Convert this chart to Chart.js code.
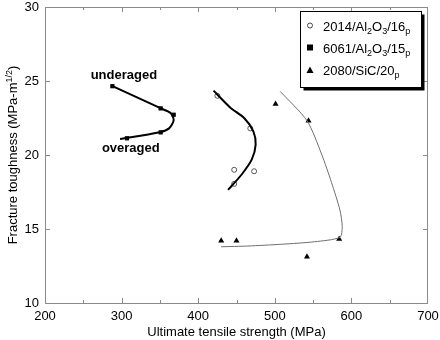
<!DOCTYPE html>
<html lang="en">
<head>
  <meta charset="UTF-8" />
  <title>Fracture toughness vs UTS</title>
  <script src="https://cdn.jsdelivr.net/npm/chart.js"></script>
  <style>
    body { margin: 0; padding: 0; background: #fff; }
    .chart-container { width: 440px; height: 340px; position: relative; }
  </style>
</head>
<body>
  <div class="chart-container">
    <canvas id="toughnessChart"></canvas>
  </div>

  <script>
    // measured points
    const al2014Points = [
      { x: 425, y: 24.0 }, { x: 468, y: 21.8 }, { x: 447, y: 19.0 },
      { x: 473, y: 18.9 }, { x: 447, y: 18.05 }
    ];
    const al6061Points = [
      { x: 288, y: 24.65 }, { x: 351, y: 23.15 }, { x: 368, y: 22.72 },
      { x: 351, y: 21.53 }, { x: 307, y: 21.13 }
    ];
    const al2080Points = [
      { x: 501, y: 23.45 }, { x: 544, y: 22.32 }, { x: 584, y: 14.32 },
      { x: 430, y: 14.21 }, { x: 450, y: 14.21 }, { x: 542, y: 13.13 }
    ];

    // hand-drawn trend curves
    const al2014Curve = [
      { x: 420, y: 24.35 }, { x: 442, y: 23.2 }, { x: 460, y: 22.5 }, { x: 472, y: 21.6 },
      { x: 475, y: 20.7 }, { x: 470, y: 19.7 }, { x: 457, y: 18.7 }, { x: 439, y: 17.64 }
    ];
    const al6061Curve = [
      { x: 286, y: 24.71 }, { x: 350, y: 23.18 }, { x: 364, y: 22.84 }, { x: 368, y: 22.35 },
      { x: 362, y: 21.8 }, { x: 348, y: 21.52 }, { x: 298, y: 21.08 }
    ];
    const al2080Curve = [
      { x: 507, y: 24.3 }, { x: 542, y: 22.32 }, { x: 561, y: 20.07 },
      { x: 574, y: 18.15 }, { x: 585, y: 16.28 }, { x: 588, y: 15.16 }, { x: 585, y: 14.44 },
      { x: 552, y: 14.14 }, { x: 509, y: 13.97 }, { x: 465, y: 13.85 }, { x: 430, y: 13.8 }
    ];

    const xTicks = [200, 300, 400, 500, 600, 700];
    const yTicks = [10, 15, 20, 25, 30];

    // [text, subscript?] pieces
    const legendLabels = [
      [['2014/Al', 0], ['2', 1], ['O', 0], ['3', 1], ['/16', 0], ['p', 1]],
      [['6061/Al', 0], ['2', 1], ['O', 0], ['3', 1], ['/15', 0], ['p', 1]],
      [['2080/SiC/20', 0], ['p', 1]]
    ];
    const legendMarkers = ['circle', 'rect', 'triangle'];

    const notes = [
      { text: 'underaged', x: 303, y: 25.4 },
      { text: 'overaged', x: 312, y: 20.47 }
    ];

    const FONT = '"Liberation Sans", Arial, sans-serif';
    const frameColor = '#8a8a8a';

    function drawMarker(ctx, style, x, y) {
      ctx.save();
      ctx.fillStyle = '#000';
      ctx.strokeStyle = '#444';
      ctx.lineWidth = 1;
      if (style === 'circle') {
        ctx.beginPath();
        ctx.arc(x, y, 2.5, 0, Math.PI * 2);
        ctx.stroke();
      } else if (style === 'rect') {
        ctx.fillRect(x - 3, y - 3, 6, 6);
      } else {
        ctx.beginPath();
        ctx.moveTo(x, y - 3.5);
        ctx.lineTo(x + 3.5, y + 3);
        ctx.lineTo(x - 3.5, y + 3);
        ctx.closePath();
        ctx.fill();
      }
      ctx.restore();
    }

    const decorPlugin = {
      id: 'decor',
      beforeDatasetsDraw(chart) {
        const { ctx, chartArea: a, scales: { x, y } } = chart;
        ctx.save();
        ctx.strokeStyle = frameColor;
        ctx.lineWidth = 1;
        ctx.strokeRect(a.left + 0.5, a.top + 0.5, a.right - a.left - 1, a.bottom - a.top);
        ctx.beginPath();
        for (let v = 250; v < 700; v += 50) {
          const px = Math.round(x.getPixelForValue(v)) + 0.5;
          const len = v % 100 === 0 ? 5 : 3;
          ctx.moveTo(px, a.bottom); ctx.lineTo(px, a.bottom - len);
          ctx.moveTo(px, a.top); ctx.lineTo(px, a.top + len);
        }
        for (let v = 15; v < 30; v += 5) {
          const py = Math.round(y.getPixelForValue(v)) + 0.5;
          ctx.moveTo(a.left, py); ctx.lineTo(a.left + 5, py);
          ctx.moveTo(a.right, py); ctx.lineTo(a.right - 5, py);
        }
        ctx.stroke();
        ctx.restore();
      },
      afterDraw(chart) {
        const { ctx, chartArea: a, scales: { x, y } } = chart;
        ctx.save();

        // y axis title with superscript
        const main = 'Fracture toughness (MPa-m';
        const sup = '1/2';
        ctx.font = '13px ' + FONT;
        const w1 = ctx.measureText(main).width;
        const w3 = ctx.measureText(')').width;
        ctx.font = '9px ' + FONT;
        const w2 = ctx.measureText(sup).width;
        const total = w1 + w2 + w3;
        ctx.translate(17, (a.top + a.bottom) / 2);
        ctx.rotate(-Math.PI / 2);
        ctx.fillStyle = '#000';
        ctx.textBaseline = 'alphabetic';
        ctx.font = '13px ' + FONT;
        ctx.fillText(main, -total / 2, 0);
        ctx.font = '9px ' + FONT;
        ctx.fillText(sup, -total / 2 + w1, -5);
        ctx.font = '13px ' + FONT;
        ctx.fillText(')', -total / 2 + w1 + w2, 0);
        ctx.restore();

        // annotations
        ctx.save();
        ctx.font = 'bold 13px ' + FONT;
        ctx.fillStyle = '#000';
        ctx.textAlign = 'center';
        ctx.textBaseline = 'middle';
        notes.forEach(n => ctx.fillText(n.text, x.getPixelForValue(n.x), y.getPixelForValue(n.y)));
        ctx.restore();

        // legend box with shadow
        ctx.save();
        const bx = 300.5, by = 11.5, bw = 121, bh = 76;
        ctx.fillStyle = '#000';
        ctx.fillRect(bx + 3, by + 3, bw, bh);
        ctx.fillStyle = '#fff';
        ctx.fillRect(bx, by, bw, bh);
        ctx.strokeStyle = '#000';
        ctx.lineWidth = 1;
        ctx.strokeRect(bx, by, bw, bh);
        const rows = [25.5, 47.5, 70];
        legendLabels.forEach((pieces, i) => {
          drawMarker(ctx, legendMarkers[i], 310, rows[i]);
          let tx = 323;
          ctx.fillStyle = '#000';
          ctx.textBaseline = 'alphabetic';
          pieces.forEach(([t, isSub]) => {
            ctx.font = (isSub ? '9px ' : '13px ') + FONT;
            ctx.fillText(t, tx, rows[i] + 5 + (isSub ? 3 : 0));
            tx += ctx.measureText(t).width;
          });
        });
        ctx.restore();
      }
    };

    const ctx = document.getElementById('toughnessChart').getContext('2d');
    const chart = new Chart(ctx, {
      type: 'scatter',
      data: {
        datasets: [
          {
            label: '2014 curve', data: al2014Curve, showLine: true, tension: 0.25,
            borderColor: '#000', borderWidth: 2, pointRadius: 0
          },
          {
            label: '6061 curve', data: al6061Curve, showLine: true, tension: 0.25,
            borderColor: '#000', borderWidth: 2, pointRadius: 0
          },
          {
            label: '2080 curve', data: al2080Curve, showLine: true, tension: 0.25,
            borderColor: '#6e6e6e', borderWidth: 1, pointRadius: 0
          },
          {
            label: '2014/Al2O3/16p', data: al2014Points, pointStyle: 'circle', pointRadius: 2.5,
            borderColor: '#555', backgroundColor: 'rgba(255,255,255,0)', borderWidth: 1
          },
          {
            label: '6061/Al2O3/15p', data: al6061Points, pointStyle: 'rect', pointRadius: 3,
            borderColor: '#000', backgroundColor: '#000', borderWidth: 0
          },
          {
            label: '2080/SiC/20p', data: al2080Points, pointStyle: 'triangle', pointRadius: 3.5,
            borderColor: '#000', backgroundColor: '#000', borderWidth: 0
          }
        ]
      },
      options: {
        responsive: true,
        maintainAspectRatio: false,
        animation: false,
        layout: { padding: 0 },
        scales: {
          x: {
            type: 'linear', min: 200, max: 700,
            afterBuildTicks: s => { s.ticks = xTicks.map(v => ({ value: v })); },
            afterFit: s => { s.height = 37; s.paddingLeft = 0; s.paddingRight = 12; },
            grid: { display: false, drawTicks: false },
            border: { display: false },
            ticks: { color: '#000', padding: 6, font: { size: 13, family: FONT } },
            title: { display: true, text: 'Ultimate tensile strength (MPa)', color: '#000', padding: 0, font: { size: 13, family: FONT } }
          },
          y: {
            type: 'linear', min: 10, max: 30,
            afterBuildTicks: s => { s.ticks = yTicks.map(v => ({ value: v })); },
            afterFit: s => { s.width = 45; s.paddingTop = 7; s.paddingBottom = 0; },
            grid: { display: false, drawTicks: false },
            border: { display: false },
            ticks: { color: '#000', padding: 6, font: { size: 13, family: FONT } }
          }
        },
        plugins: {
          legend: { display: false },
          tooltip: { enabled: false }
        }
      },
      plugins: [decorPlugin]
    });
  </script>
</body>
</html>
